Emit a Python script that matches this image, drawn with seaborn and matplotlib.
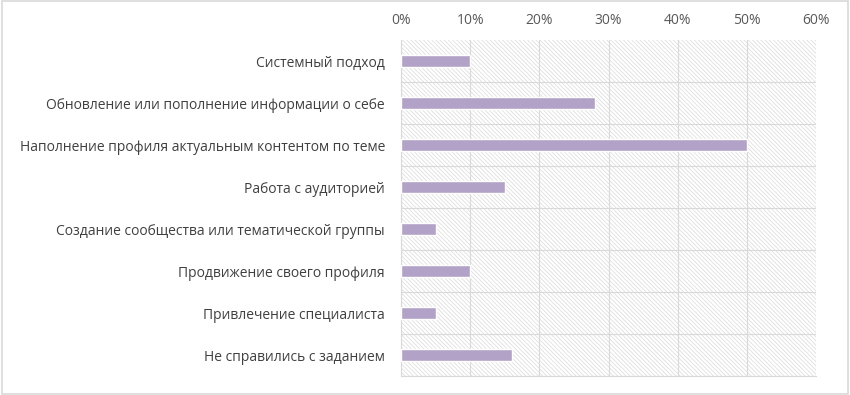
import numpy as np
import pandas as pd
import matplotlib
matplotlib.use("Agg")
import matplotlib.pyplot as plt
from matplotlib.patches import Rectangle
from matplotlib.ticker import FuncFormatter, FixedLocator
import seaborn as sns

categories = [
    "Системный подход",
    "Обновление или пополнение информации о себе",
    "Наполнение профиля актуальным контентом по теме",
    "Работа с аудиторией",
    "Создание сообщества или тематической группы",
    "Продвижение своего профиля",
    "Привлечение специалиста",
    "Не справились с заданием",
]
shares = [10, 28, 50, 15, 5, 10, 5, 16]

df = pd.DataFrame({"category": categories, "share": shares})

sns.set_style("white")
plt.rcParams["font.family"] = ["Open Sans", "DejaVu Sans"]
plt.rcParams["hatch.linewidth"] = 0.5
plt.rcParams["hatch.color"] = "#dadada"

fig = plt.figure(figsize=(8.5, 3.95), dpi=100)
ax = fig.add_axes([0.4718, 0.048, 0.4882, 0.8507])

# hatched plot area
ax.add_patch(Rectangle((0, 0), 1, 1, transform=ax.transAxes, facecolor="white",
                       edgecolor="#dadada", hatch="\\" * 8, linewidth=0, zorder=0))

sns.barplot(data=df, x="share", y="category", orient="h", color="#b3a2c7",
            width=0.3, saturation=1, ax=ax, zorder=3)

ax.set_xlim(0, 60)
ax.set_ylim(7.5, -0.5)
ax.xaxis.tick_top()
ax.set_xticks(range(0, 61, 10))
ax.xaxis.set_major_formatter(FuncFormatter(lambda v, p: f"{int(v)}%"))
ax.tick_params(axis="x", length=0, pad=9, labelsize=10, colors="#595959")
ax.tick_params(axis="y", which="major", length=0, pad=11.5, labelsize=10, colors="#404040")
ax.yaxis.set_minor_locator(FixedLocator(np.arange(0.5, 8, 1)))
ax.tick_params(axis="y", which="minor", length=5, color="#d9d9d9", width=0.8)
ax.grid(axis="x", which="major", color="#d9d9d9", linewidth=0.8, zorder=1)
ax.grid(axis="y", which="minor", color="#d9d9d9", linewidth=0.8, zorder=1)
ax.set_axisbelow(True)
ax.set_xlabel("")
ax.set_ylabel("")
for s in ["top", "right"]:
    ax.spines[s].set_visible(False)
for s in ["left", "bottom"]:
    ax.spines[s].set_color("#d9d9d9")
    ax.spines[s].set_linewidth(0.8)

# outer border
fig.add_artist(Rectangle((0.002, 0.003), 0.996, 0.994, transform=fig.transFigure,
                         fill=False, edgecolor="#d9d9d9", linewidth=1.2))

fig.savefig("out.png", dpi=100)
